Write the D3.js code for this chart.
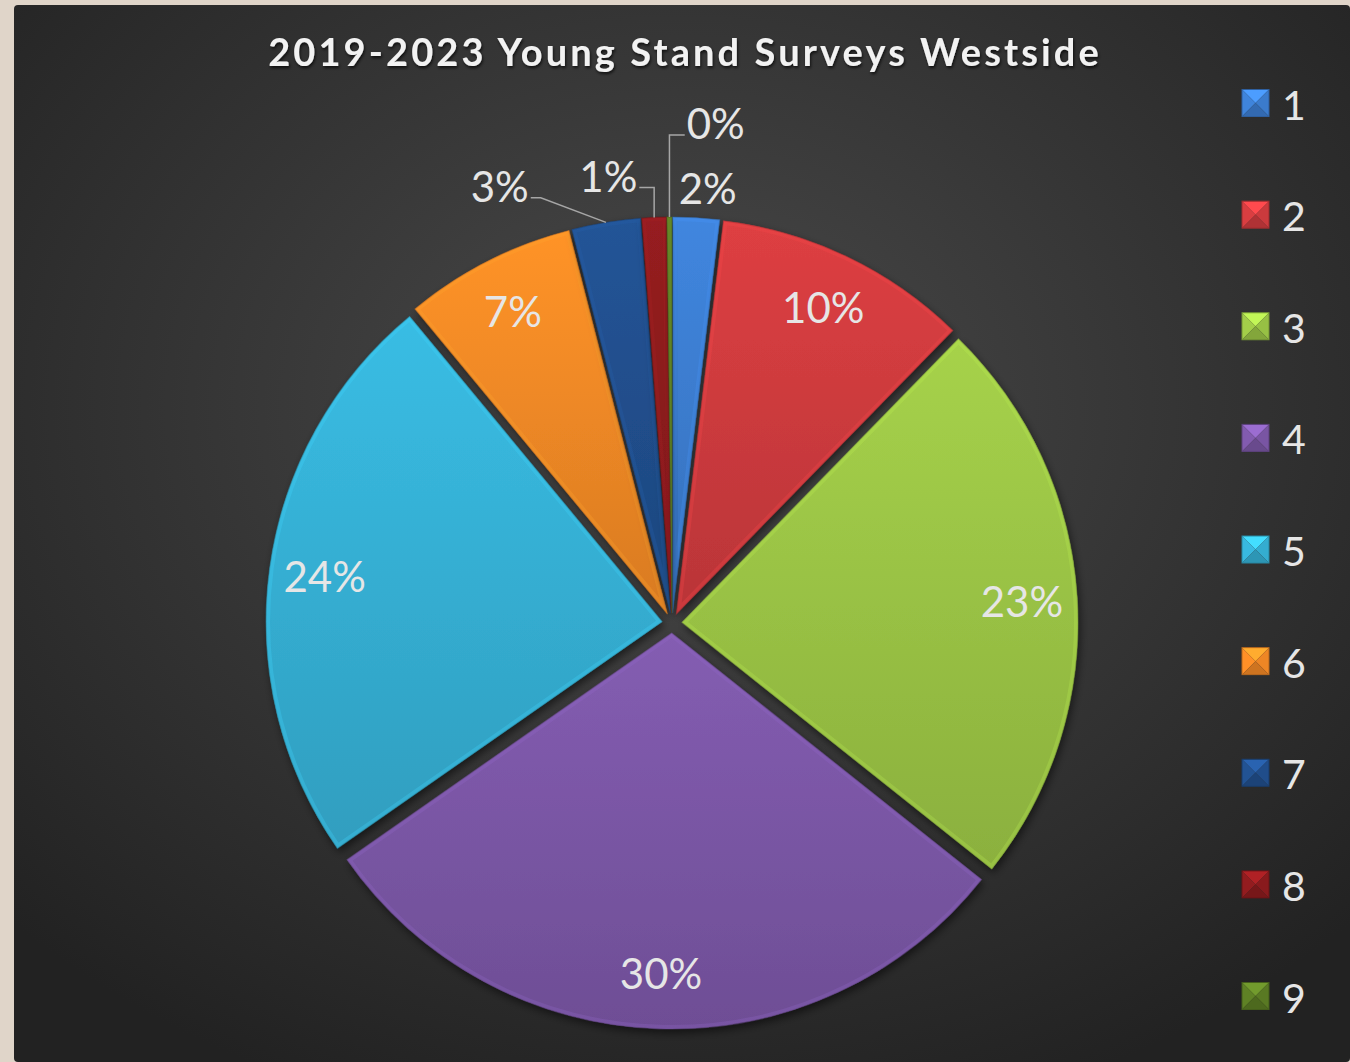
<!DOCTYPE html>
<html>
<head>
<meta charset="utf-8">
<script src="https://cdn.jsdelivr.net/npm/d3@7"></script>
<style>
  html, body { margin: 0; padding: 0; background: #e0d5c9; }
  svg { display: block; }
</style>
</head>
<body>
<div id="chart"></div>
<script>
var categories = ["1", "2", "3", "4", "5", "6", "7", "8", "9"];
var values = [1.9, 10.4, 23.4, 29.6, 23.7, 7.0, 2.8, 1.0, 0.2];
var colors = ["#3d7fd3", "#d23c3f", "#9dc746", "#7d58a9", "#36b3d8", "#f68b26", "#21508f", "#8e1b1e", "#5c7d24"];
var chartTitle = "2019-2023 Young Stand Surveys Westside";

var width = 1350, height = 1062;
var cx = 672, cy = 623, radius = 396, explode = 10;

// outside labels (Excel best fit), polar: angle in degrees, distance from centre, leader line
var outsideLabels = { "1": [4.7, 436, false], "7": [338.5, 470, true], "8": [351.9, 452, true], "9": [5, 502, true] };

var svg = d3.select("#chart").append("svg")
  .attr("width", width)
  .attr("height", height);

var defs = svg.append("defs");

var bg = defs.append("radialGradient")
  .attr("id", "bg")
  .attr("cx", "50%").attr("cy", "38%").attr("r", "70%");
bg.append("stop").attr("offset", "0%").attr("stop-color", "#4a4a4a");
bg.append("stop").attr("offset", "100%").attr("stop-color", "#222");

var shadow = defs.append("filter").attr("id", "shadow")
  .attr("x", "-20%").attr("y", "-20%").attr("width", "140%").attr("height", "140%");
shadow.append("feDropShadow")
  .attr("dx", 2).attr("dy", 4).attr("stdDeviation", 4)
  .attr("flood-color", "#000").attr("flood-opacity", 0.55);

var txtShadow = defs.append("filter").attr("id", "txtshadow");
txtShadow.append("feDropShadow")
  .attr("dx", 1).attr("dy", 2).attr("stdDeviation", 1.5)
  .attr("flood-color", "#000").attr("flood-opacity", 0.7);

colors.forEach(function(c, i) {
  var g = defs.append("linearGradient").attr("id", "grad" + i)
    .attr("x1", 0).attr("y1", 0).attr("x2", 0).attr("y2", 1);
  g.append("stop").attr("offset", "0%").attr("stop-color", d3.color(c).brighter(0.15));
  g.append("stop").attr("offset", "100%").attr("stop-color", d3.color(c).darker(0.35));
});

// panel
svg.append("rect")
  .attr("x", 14).attr("y", 5)
  .attr("width", width - 14).attr("height", height - 5)
  .attr("rx", 4)
  .attr("fill", "url(#bg)");

svg.append("text")
  .attr("x", 685).attr("y", 66)
  .attr("text-anchor", "middle")
  .attr("font-family", "Lato, 'Open Sans', sans-serif")
  .attr("font-weight", "bold")
  .attr("font-size", 38)
  .attr("letter-spacing", 3.1)
  .attr("fill", "#f2f2f2")
  .attr("filter", "url(#txtshadow)")
  .text(chartTitle);

var data = categories.map(function(c, i) { return { cat: c, value: values[i], color: colors[i], i: i }; });

var pie = d3.pie().sort(null).value(function(d) { return d.value; });
var arcs = pie(data);

var arc = d3.arc().innerRadius(0).outerRadius(radius);
var labelArc = d3.arc().innerRadius(radius * 0.86).outerRadius(radius * 0.86);

function offset(d) {
  var a = (d.startAngle + d.endAngle) / 2;
  return [Math.sin(a) * explode, -Math.cos(a) * explode];
}

var pieG = svg.append("g").attr("transform", "translate(" + cx + "," + cy + ")");

var slices = pieG.selectAll("g.slice")
  .data(arcs)
  .enter()
  .append("g")
  .attr("class", "slice")
  .attr("transform", function(d) { var o = offset(d); return "translate(" + o[0] + "," + o[1] + ")"; });

slices.each(function(d) {
  defs.append("clipPath").attr("id", "clip" + d.data.i)
    .append("path").attr("d", arc(d));
});

slices.append("path")
  .attr("d", arc)
  .attr("fill", function(d) { return "url(#grad" + d.data.i + ")"; })
  .attr("filter", "url(#shadow)");

// bevel: light inner rim, clipped to the slice
slices.append("path")
  .attr("d", arc)
  .attr("fill", "none")
  .attr("stroke", function(d) { return d3.color(d.data.color).brighter(0.5); })
  .attr("stroke-opacity", 0.28)
  .attr("stroke-width", 8)
  .attr("clip-path", function(d) { return "url(#clip" + d.data.i + ")"; });

slices.append("path")
  .attr("d", arc)
  .attr("fill", "none")
  .attr("stroke", function(d) { return d3.color(d.data.color).darker(0.6); })
  .attr("stroke-opacity", 0.5)
  .attr("stroke-width", 1.2);

var fontLabel = "Lato, 'Open Sans', sans-serif";
var labelG = svg.append("g");

arcs.forEach(function(d) {
  var pct = Math.round(d.data.value) + "%";
  var o = offset(d);
  var ol = outsideLabels[d.data.cat];
  if (!ol) {
    var c = labelArc.centroid(d);
    labelG.append("text")
      .attr("x", cx + c[0] + o[0]).attr("y", cy + c[1] + o[1])
      .attr("text-anchor", "middle")
      .attr("dominant-baseline", "central")
      .attr("font-family", fontLabel)
      .attr("font-size", 42)
      .attr("fill", "#e6e6e6")
      .text(pct);
    return;
  }
  var a = ol[0] * Math.PI / 180;
  var lx = cx + Math.sin(a) * ol[1], ly = cy - Math.cos(a) * ol[1];
  var t = labelG.append("text")
    .attr("x", lx).attr("y", ly)
    .attr("text-anchor", "middle")
    .attr("dominant-baseline", "central")
    .attr("font-family", fontLabel)
    .attr("font-size", 42)
    .attr("fill", "#e6e6e6")
    .text(pct);
  if (!ol[2]) return;
  var mid = (d.startAngle + d.endAngle) / 2;
  var px = cx + Math.sin(mid) * (radius + explode), py = cy - Math.cos(mid) * (radius + explode);
  var bb = t.node().getBBox();
  var edge = px > lx ? bb.x + bb.width + 2 : bb.x - 2;
  var dir = px > lx ? 1 : -1;
  var elbowX = Math.abs(px - edge) < 25 ? px : edge + dir * 10;
  var lineY = ly + 12;
  labelG.append("path")
    .attr("d", "M" + edge + "," + lineY + "L" + elbowX + "," + lineY + "L" + px + "," + py)
    .attr("fill", "none")
    .attr("stroke", "#a6a6a6")
    .attr("stroke-width", 1.5);
});

// legend
var legendY = d3.scalePoint().domain(categories).range([103, 996]);
var legend = svg.append("g").selectAll("g")
  .data(data)
  .enter()
  .append("g")
  .attr("transform", function(d) { return "translate(1242," + legendY(d.cat) + ")"; });

var s = 27, h = s / 2;
var facets = [
  ["M0,0L" + s + ",0L" + h + "," + h + "Z", 0.6],
  ["M0,0L" + h + "," + h + "L0," + s + "Z", 0.1],
  ["M" + s + ",0L" + s + "," + s + "L" + h + "," + h + "Z", -0.1],
  ["M0," + s + "L" + h + "," + h + "L" + s + "," + s + "Z", -0.5]
];
facets.forEach(function(f) {
  legend.append("path")
    .attr("transform", "translate(0," + (-h) + ")")
    .attr("d", f[0])
    .attr("fill", function(d) { return f[1] > 0 ? d3.color(d.color).brighter(f[1]) : d3.color(d.color).darker(-f[1]); });
});

legend.append("rect")
  .attr("x", 0).attr("y", -h)
  .attr("width", s).attr("height", s)
  .attr("fill", "none")
  .attr("stroke", function(d) { return d3.color(d.color).darker(0.8); })
  .attr("stroke-width", 1);

legend.append("text")
  .attr("x", 40).attr("y", 1)
  .attr("dominant-baseline", "central")
  .attr("font-family", fontLabel)
  .attr("font-size", 41)
  .attr("fill", "#e6e6e6")
  .text(function(d) { return d.cat; });
</script>
</body>
</html>
